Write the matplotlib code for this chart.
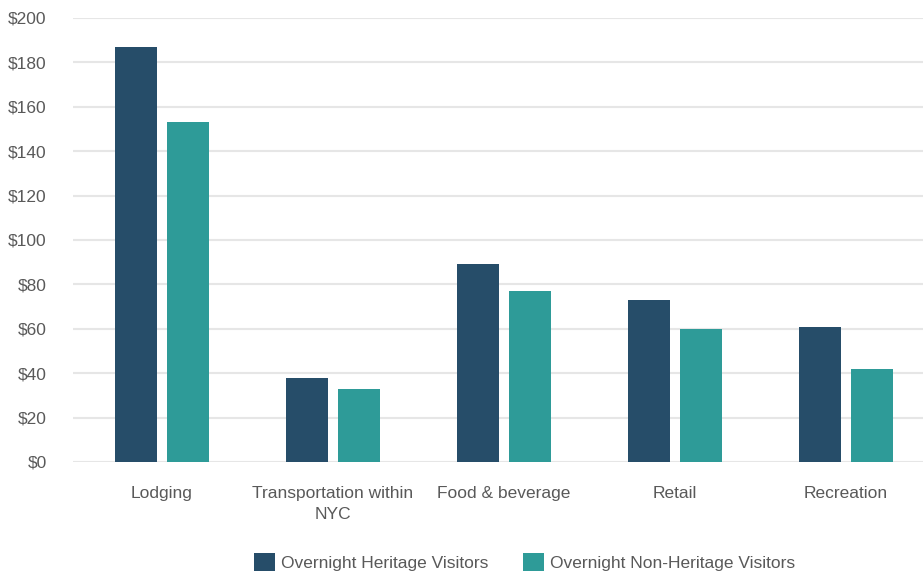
import matplotlib
matplotlib.use("Agg")
import matplotlib.pyplot as plt
import numpy as np

categories = ["Lodging", "Transportation within\nNYC", "Food & beverage", "Retail", "Recreation"]
heritage = [187, 38, 89, 73, 61]
non_heritage = [153, 33, 77, 60, 42]
series_names = ["Overnight Heritage Visitors", "Overnight Non-Heritage Visitors"]
yticks = [0, 20, 40, 60, 80, 100, 120, 140, 160, 180, 200]
ytick_labels = ["$" + str(v) for v in yticks]

plt.rcParams['font.family'] = ['Liberation Sans', 'DejaVu Sans']
TEXT = "#595959"
DARK = "#264d69"
TEAL = "#2e9b98"
FS = 12.5

fig = plt.figure(figsize=(9.23, 5.78), dpi=100)
ax = fig.add_axes([0.0791, 0.2007, 0.9209, 0.7682])

x = np.arange(len(categories))
w = 0.245
off = 0.153
ax.bar(x - off, heritage, w, color=DARK, label=series_names[0], zorder=3)
ax.bar(x + off, non_heritage, w, color=TEAL, label=series_names[1], zorder=3)

ax.set_xlim(-0.52, 4.45)
ax.set_ylim(0, 200)
ax.set_yticks(yticks)
ax.set_yticklabels(ytick_labels)
ax.set_xticks(x)
ax.set_xticklabels(categories, linespacing=1.5, va='top')
ax.tick_params(axis='y', length=0, pad=19, labelsize=FS, labelcolor=TEXT)
ax.tick_params(axis='x', length=0, pad=17, labelsize=FS, labelcolor=TEXT)
ax.grid(axis='y', color="#e6e6e6", lw=1.5, zorder=0)
for s in ax.spines.values():
    s.set_visible(False)

fig.legend(loc='lower center', bbox_to_anchor=(0.568, -0.015), ncol=2, frameon=False,
           fontsize=FS, labelcolor=TEXT, handlelength=1.25, handleheight=1.25,
           handletextpad=0.3, columnspacing=2.0)

fig.savefig("out.png", dpi=100)
